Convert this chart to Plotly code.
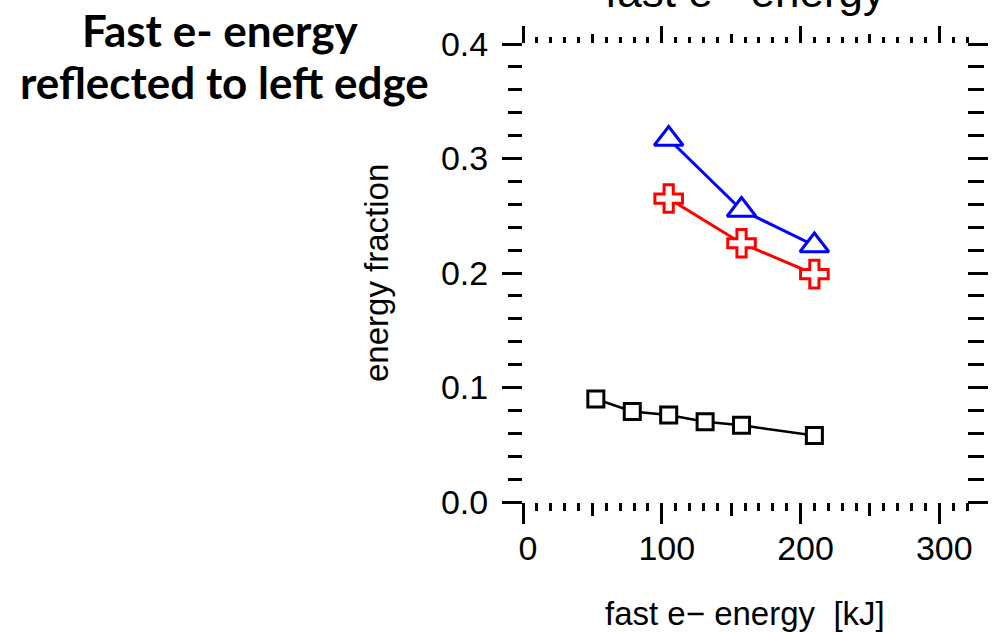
import plotly.graph_objects as go

# Data
x_black = [52.5, 78.75, 105, 131.25, 157.5, 210]
y_black = [0.090, 0.079, 0.076, 0.070, 0.067, 0.058]
x_red = [105, 157.5, 210]
y_red = [0.265, 0.226, 0.199]
x_blue = [105, 157.5, 210]
y_blue = [0.317, 0.255, 0.224]

x_range = [0, 320]
y_range = [0, 0.4]

fig = go.Figure()

fig.add_trace(go.Scatter(
    x=x_black, y=y_black, mode="lines+markers",
    line=dict(color="black", width=2.5),
    marker=dict(symbol="square", size=16, color="white",
                line=dict(color="black", width=3)),
    showlegend=False, hoverinfo="x+y"))
fig.add_trace(go.Scatter(
    x=x_red, y=y_red, mode="lines+markers",
    line=dict(color="#ff0000", width=3),
    marker=dict(symbol="cross", size=23, color="white",
                line=dict(color="#ff0000", width=3)),
    showlegend=False, hoverinfo="x+y"))
fig.add_trace(go.Scatter(
    x=x_blue, y=y_blue, mode="lines+markers",
    line=dict(color="#0000ff", width=3),
    marker=dict(symbol="triangle-up", size=25, color="white",
                line=dict(color="#0000ff", width=3)),
    showlegend=False, hoverinfo="x+y"))

# empty traces to register the mirror / medium-tick axes
for xa, ya in [("x2", "y"), ("x3", "y"), ("x4", "y"), ("x", "y2")]:
    fig.add_trace(go.Scatter(x=[], y=[], xaxis=xa, yaxis=ya,
                             showlegend=False, hoverinfo="skip"))

FONT = "Liberation Sans, Arial, sans-serif"
tickfont = dict(family=FONT, size=34, color="black")
common = dict(showgrid=False, zeroline=False, showline=False, ticks="outside",
              tickcolor="black", tickwidth=3)

fig.update_layout(
    width=998, height=633,
    margin=dict(l=523, r=31, t=44, b=131),
    paper_bgcolor="white", plot_bgcolor="white",
    xaxis=dict(range=x_range, dtick=100, tick0=0, ticklen=21,
               tickfont=tickfont, ticklabelstandoff=-5, ticklabelshift=5,
               minor=dict(dtick=10, tick0=0, ticks="outside", ticklen=8,
                          tickwidth=3, tickcolor="black", showgrid=False),
               **common),
    xaxis3=dict(range=x_range, dtick=50, tick0=0, ticklen=13, overlaying="x",
                side="bottom", showticklabels=False, anchor="y", **common),
    xaxis2=dict(range=x_range, dtick=100, tick0=0, ticklen=17, overlaying="x",
                side="top", showticklabels=False, anchor="y",
                minor=dict(dtick=10, tick0=0, ticks="outside", ticklen=6,
                           tickwidth=3, tickcolor="black", showgrid=False),
                **common),
    xaxis4=dict(range=x_range, dtick=50, tick0=0, ticklen=9, overlaying="x",
                side="top", showticklabels=False, anchor="y", **common),
    yaxis=dict(range=y_range, dtick=0.1, tick0=0, tickformat=".1f", ticklen=20,
               tickfont=tickfont, ticklabelstandoff=7,
               minor=dict(dtick=0.02, tick0=0, ticks="outside", ticklen=14,
                          tickwidth=3, tickcolor="black", showgrid=False),
               **common),
    yaxis2=dict(range=y_range, dtick=0.1, tick0=0, ticklen=20, overlaying="y",
                side="right", showticklabels=False, anchor="x",
                minor=dict(dtick=0.02, tick0=0, ticks="outside", ticklen=16,
                           tickwidth=3, tickcolor="black", showgrid=False),
                **common),
    annotations=[
        dict(text="fast e− energy  [kJ]", xref="paper", yref="paper",
             x=0.5, y=0, yshift=-111, xanchor="center", yanchor="middle",
             showarrow=False,
             font=dict(family=FONT, size=33, color="black")),
        dict(text="energy fraction", xref="paper", yref="paper",
             x=0, xshift=-147, y=0.5, xanchor="center", yanchor="middle",
             textangle=-90, showarrow=False,
             font=dict(family=FONT, size=33, color="black")),
        dict(text="fast e− energy", xref="paper", yref="paper",
             x=0.5, y=1, yshift=53, xanchor="center", yanchor="middle",
             showarrow=False,
             font=dict(family=FONT, size=44, color="black")),
        dict(text="<b>Fast e- energy</b>", xref="paper", yref="paper",
             x=0, xshift=-303, y=1, yshift=14, xanchor="center", yanchor="middle",
             showarrow=False,
             font=dict(family="Lato, sans-serif", size=44, color="black")),
        dict(text="<b>reflected to left edge</b>", xref="paper", yref="paper",
             x=0, xshift=-299, y=1, yshift=-38, xanchor="center", yanchor="middle",
             showarrow=False,
             font=dict(family="Lato, sans-serif", size=44, color="black")),
    ],
)

fig.write_html("out.html", config={"displayModeBar": False},
               post_script="document.body.style.margin='0';")
